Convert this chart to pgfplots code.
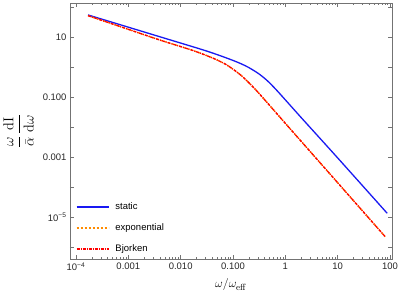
\documentclass[border=0pt]{standalone}
\usepackage{amsmath}
\usepackage{pgfplots}
\pgfplotsset{compat=1.18}
\usepackage[no-math]{fontspec}
\setmainfont{Liberation Sans}
\definecolor{framegray}{gray}{0.45}
\definecolor{cblue}{rgb}{0.1,0.1,0.95}
\definecolor{corange}{rgb}{1,0.55,0}
\definecolor{cred}{rgb}{1,0,0}
\pgfplotstableread{
x y
1.698e-4 54.33
1e-3 21.23
5.012e-3 9.036
0.02512 3.846
0.05012 2.576
0.1 1.656
0.1445 1.268
0.1995 0.9616
0.309 0.5984
0.4467 0.3556
0.631 0.1945
1 0.08017
1.995 0.02084
10 9.29e-4
88.3 1.327e-5
}\staticdata
\pgfplotstableread{
x y
1.698e-4 51.29
1e-3 17.99
3.981e-3 7.943
0.01585 3.715
0.03162 2.388
0.04898 1.734
0.07943 1.114
0.1445 0.5152
0.2512 0.2009
0.3981 0.0826
1 0.01321
5.012 5.433e-4
80.9 2.203e-6
}\expdata
\pgfplotstableread{
x y
1.698e-4 51.29
1e-3 17.99
3.981e-3 7.943
0.01585 3.715
0.03162 2.388
0.04898 1.734
0.07943 1.114
0.1445 0.5152
0.2512 0.2009
0.3981 0.0826
1 0.01321
5.012 5.433e-4
80.9 2.203e-6
}\bjdata
\begin{document}
\begin{tikzpicture}
\path[use as bounding box] (-70bp,-40bp) rectangle (329bp,259bp);
\begin{axis}[
  at={(0,0)}, anchor=south west,
  scale only axis, width=322bp, height=256bp,
  xmode=log, ymode=log,
  xmin=7.68e-5, xmax=109, ymin=3.98e-7, ymax=135.9,
  axis line style={framegray, line width=0.8bp},
  every tick/.style={framegray, line width=0.5bp},
  tick align=inside,
  major tick length=4bp, minor tick length=2bp,
  xtick={1e-4,1e-3,0.01,0.1,1,10,100},
  xticklabels={10\textsuperscript{−4},0.001,0.010,0.100,1,10,100},
  minor xtick={2e-4,3e-4,4e-4,5e-4,6e-4,7e-4,8e-4,9e-4,
    2e-3,3e-3,4e-3,5e-3,6e-3,7e-3,8e-3,9e-3,
    0.02,0.03,0.04,0.05,0.06,0.07,0.08,0.09,
    0.2,0.3,0.4,0.5,0.6,0.7,0.8,0.9,
    2,3,4,5,6,7,8,9,20,30,40,50,60,70,80,90},
  ytick={1e-6,1e-5,1e-4,1e-3,1e-2,0.1,1,10,100},
  yticklabels={,10\textsuperscript{−5},,0.001,,0.100,,10,},
  yminorticks=false,
  ticklabel style={font=\fontsize{9.5}{11}\selectfont, text=black!85},
  xlabel={$\omega/\omega_{\mathrm{eff}}$},
  xlabel style={font=\fontsize{13}{15}\selectfont, at={(axis description cs:0.5,0)}, anchor=center, yshift=-26bp},
  ylabel={$\dfrac{\omega\rule[-2bp]{0pt}{2bp}}{\rule{0pt}{12bp}\bar{\alpha}}\,\dfrac{\mathrm{dI}\rule[-2bp]{0pt}{2bp}}{\rule{0pt}{12bp}\mathrm{d}\omega}$},
  ylabel style={font=\fontsize{14}{16}\selectfont, at={(axis description cs:-0.16,0.5)}, anchor=center},
  legend style={draw=none, fill=none, at={(axis description cs:0,0)}, anchor=south west,
    xshift=2.5bp, yshift=2bp, font=\fontsize{9.5}{11}\selectfont, row sep=8.5bp, column sep=4bp},
  legend cell align=left,
  legend image code/.code={\draw[#1, line width=1.8bp] (0bp,0bp) -- (32bp,0bp);},
]
\addplot[cblue, line width=1.3bp, smooth] table[x=x,y=y] {\staticdata};
\addlegendentry{static}
\addplot[corange, line width=1.3bp, dash pattern=on 2.5bp off 1.5bp, smooth] table[x=x,y=y] {\expdata};
\addlegendentry{exponential}
\addplot[cred, line width=1.3bp, dash pattern=on 3bp off 1bp on 1bp off 1bp, smooth] table[x=x,y=y] {\bjdata};
\addlegendentry{Bjorken}
\end{axis}
\end{tikzpicture}
\end{document}
